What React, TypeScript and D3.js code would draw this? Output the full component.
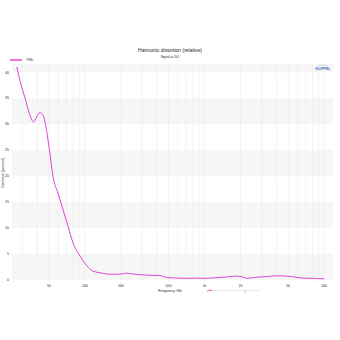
import React from "react";
import * as d3 from "d3";

const freqs = [27, 29.6, 31.5, 33.7, 36.1, 37.2, 39.5, 42, 44.8, 47.8, 51, 54.2, 59.6, 65.7, 72.4, 79.7, 90, 100, 113, 125, 140, 156, 185, 210, 223, 240, 288, 350, 424, 482, 600, 687, 820, 970, 1200, 1500, 1855, 2050, 2250, 2700, 3300, 4000, 4800, 5700, 6670, 8000, 9000, 10000];
const thd = [41, 37.2, 35.2, 32.7, 30.8, 30.4, 31.4, 32.2, 31.7, 28.8, 24.4, 19.9, 16.7, 13.5, 10.3, 7.1, 4.8, 3.2, 1.9, 1.5, 1.3, 1.1, 1.1, 1.2, 1.3, 1.2, 1.0, 0.9, 0.85, 0.45, 0.35, 0.3, 0.35, 0.3, 0.4, 0.55, 0.75, 0.6, 0.3, 0.5, 0.65, 0.8, 0.75, 0.55, 0.35, 0.3, 0.25, 0.2];
const yTicks = [0, 5, 10, 15, 20, 25, 30, 35, 40];
const xTicks = [50, 100, 200, 500, 1000, 2000, 5000, 10000];
const xTickLabels = ["50", "100", "200", "500", "1k", "2k", "5k", "10k"];
const bands = [[0, 5], [10, 15], [20, 25], [30, 35], [40, 41.6]];

export default function App() {
  const L = 12, R = 333, T = 64, B = 282;
  const x = d3.scaleLog().domain([24.6, 11850]).range([L, R]);
  const y = d3.scaleLinear().domain([-0.4, 41.6]).range([B, T]);
  const minor: number[] = [];
  for (let dec = 10; dec <= 10000; dec *= 10)
    for (let m = 1; m < 10; m++) {
      const f = dec * m;
      if (f >= 24.6 && f <= 11850) minor.push(f);
    }
  const line = d3.line<number>().x((_, i) => x(freqs[i])).y(d => y(d)).curve(d3.curveMonotoneX);
  const font = "Liberation Sans, Arial, sans-serif";
  return (
    <svg width={340} height={340} style={{ position: "absolute", left: 0, top: 0, background: "#fff" }} fontFamily={font}>
      <rect x={0} y={0} width={340} height={340} fill="#fff" />
      <text x={170} y={52} fontSize={5} textAnchor="middle" fill="#222">Harmonic distortion (relative)</text>
      <text x={170} y={58} fontSize={3.2} textAnchor="middle" fill="#222">Signal at 1k1</text>
      <line x1={10} x2={22} y1={60} y2={60} stroke="#dd44dd" strokeWidth={1.5} />
      <text x={26} y={61.3} fontSize={3.5} fill="#333">THD</text>
      {bands.map(([a, b], i) => (
        <rect key={i} x={L} width={R - L} y={y(b)} height={y(a) - y(b)} fill="#f6f6f6" />
      ))}
      {minor.map((f, i) => (
        <line key={i} x1={x(f)} x2={x(f)} y1={T} y2={B} stroke="#ebebeb" strokeWidth={0.6} />
      ))}
      {yTicks.map(t => (
        <text key={t} x={9} y={y(t) + 1.2} fontSize={3.5} textAnchor="end" fill="#222">{t}</text>
      ))}
      {xTicks.map((t, i) => (
        <text key={t} x={x(t)} y={B + 4.5} fontSize={3.5} textAnchor="middle" fill="#222">{xTickLabels[i]}</text>
      ))}
      <text x={170} y={292} fontSize={3.5} textAnchor="middle" fill="#222">Frequency / Hz</text>
      <text transform={`translate(3.5,${(T + B) / 2}) rotate(-90)`} fontSize={3.5} textAnchor="middle" fill="#222">Distortion [percent]</text>
      <path d={line(thd) || ""} fill="none" stroke="#dd44dd" strokeWidth={1} />
      <text x={323} y={69.5} fontSize={3.5} textAnchor="middle" fill="#3366bb" fontWeight="bold">KLIPPEL</text>
      <path d="M318,66 Q323,63.5 328,66" fill="none" stroke="#88aadd" strokeWidth={0.4} />
      <path d="M207,291.5 Q209,289.5 212,290.5" fill="none" stroke="#e23a2a" strokeWidth={0.8} />
      <line x1={212} x2={260} y1={290.5} y2={290.5} stroke="#e6e6e6" strokeWidth={0.8} />
      <line x1={245} x2={245} y1={290} y2={292.5} stroke="#666" strokeWidth={0.4} />
    </svg>
  );
}
